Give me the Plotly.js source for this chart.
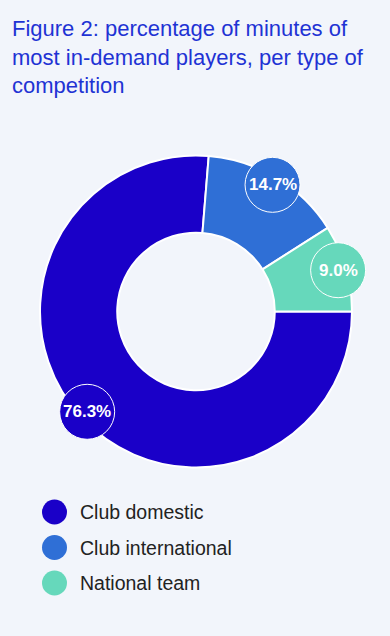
<!DOCTYPE html>
<html>
<head>
<meta charset="utf-8">
<script src="https://cdn.plot.ly/plotly-3.0.1.min.js"></script>
<style>html,body{margin:0;padding:0;background:#f2f5fb;}</style>
</head>
<body>
<div id="chart" style="width:390px;height:636px;"></div>
<script>
const categories = ["Club domestic", "Club international", "National team"];
const values = [76.3, 14.7, 9.0];
const labels = ["76.3%", "14.7%", "9.0%"];
const colors = ["#1a00c8", "#2f6fd6", "#66d8bb"];

const W = 390, H = 636;
const CX = 196, CY = 311.5, R = 156;
const LABEL_R = 148, BUBBLE_R = 27.5;

const total = values.reduce((a, b) => a + b, 0);
const shapes = [];
const annotations = [];
let start = 90; // degrees clockwise from 12 o'clock
values.forEach((v, i) => {
  const sweep = v / total * 360;
  const mid = (start + sweep / 2) * Math.PI / 180;
  start += sweep;
  const px = CX + LABEL_R * Math.sin(mid);
  const py = CY - LABEL_R * Math.cos(mid);
  const xp = px / W, yp = 1 - py / H;
  shapes.push({
    type: "circle", layer: "above",
    xref: "paper", yref: "paper",
    xsizemode: "pixel", ysizemode: "pixel",
    xanchor: xp, yanchor: yp,
    x0: -BUBBLE_R, x1: BUBBLE_R, y0: -BUBBLE_R, y1: BUBBLE_R,
    fillcolor: colors[i], line: {color: "#ffffff", width: 1}
  });
  annotations.push({
    xref: "paper", yref: "paper", x: xp, y: yp,
    text: "<b>" + labels[i] + "</b>", showarrow: false,
    font: {family: "Liberation Sans, Arial, sans-serif", size: 17, color: "#ffffff"},
    xanchor: "center", yanchor: "middle"
  });
});

// custom legend with circular markers
const LEG_X = 54.5, LEG_Y0 = 512, LEG_DY = 35.5, LEG_R = 12.5;
categories.forEach((c, i) => {
  const y = 1 - (LEG_Y0 + i * LEG_DY) / H;
  shapes.push({
    type: "circle", layer: "above",
    xref: "paper", yref: "paper",
    xsizemode: "pixel", ysizemode: "pixel",
    xanchor: LEG_X / W, yanchor: y,
    x0: -LEG_R, x1: LEG_R, y0: -LEG_R, y1: LEG_R,
    fillcolor: colors[i], line: {width: 0}
  });
  annotations.push({
    xref: "paper", yref: "paper", x: 78 / W, y: y,
    text: c, showarrow: false,
    font: {family: "Liberation Sans, Arial, sans-serif", size: 19.5, color: "#222222"},
    xanchor: "left", yanchor: "middle"
  });
});

const data = [{
  type: "pie",
  labels: categories,
  values: values,
  hole: 0.505,
  sort: false,
  direction: "clockwise",
  rotation: 90,
  textinfo: "none",
  hoverinfo: "label+percent",
  marker: {colors: colors, line: {color: "#ffffff", width: 2}},
  domain: {x: [(CX - R) / W, (CX + R) / W], y: [1 - (CY + R) / H, 1 - (CY - R) / H]},
  showlegend: false
}];

const layout = {
  width: W, height: H,
  margin: {l: 0, r: 0, t: 0, b: 0},
  paper_bgcolor: "#f2f5fb",
  plot_bgcolor: "#f2f5fb",
  title: {
    text: "Figure 2: percentage of minutes of<br>most in-demand players, per type of<br>competition",
    font: {family: "Liberation Sans, Arial, sans-serif", size: 22, color: "#1f33d4"},
    x: 12 / W, xanchor: "left", xref: "paper",
    y: 1 - 36 / H, yanchor: "top", yref: "container"
  },
  shapes: shapes,
  annotations: annotations,
  showlegend: false
};

Plotly.newPlot("chart", data, layout, {displayModeBar: false, staticPlot: true});
</script>
</body>
</html>
